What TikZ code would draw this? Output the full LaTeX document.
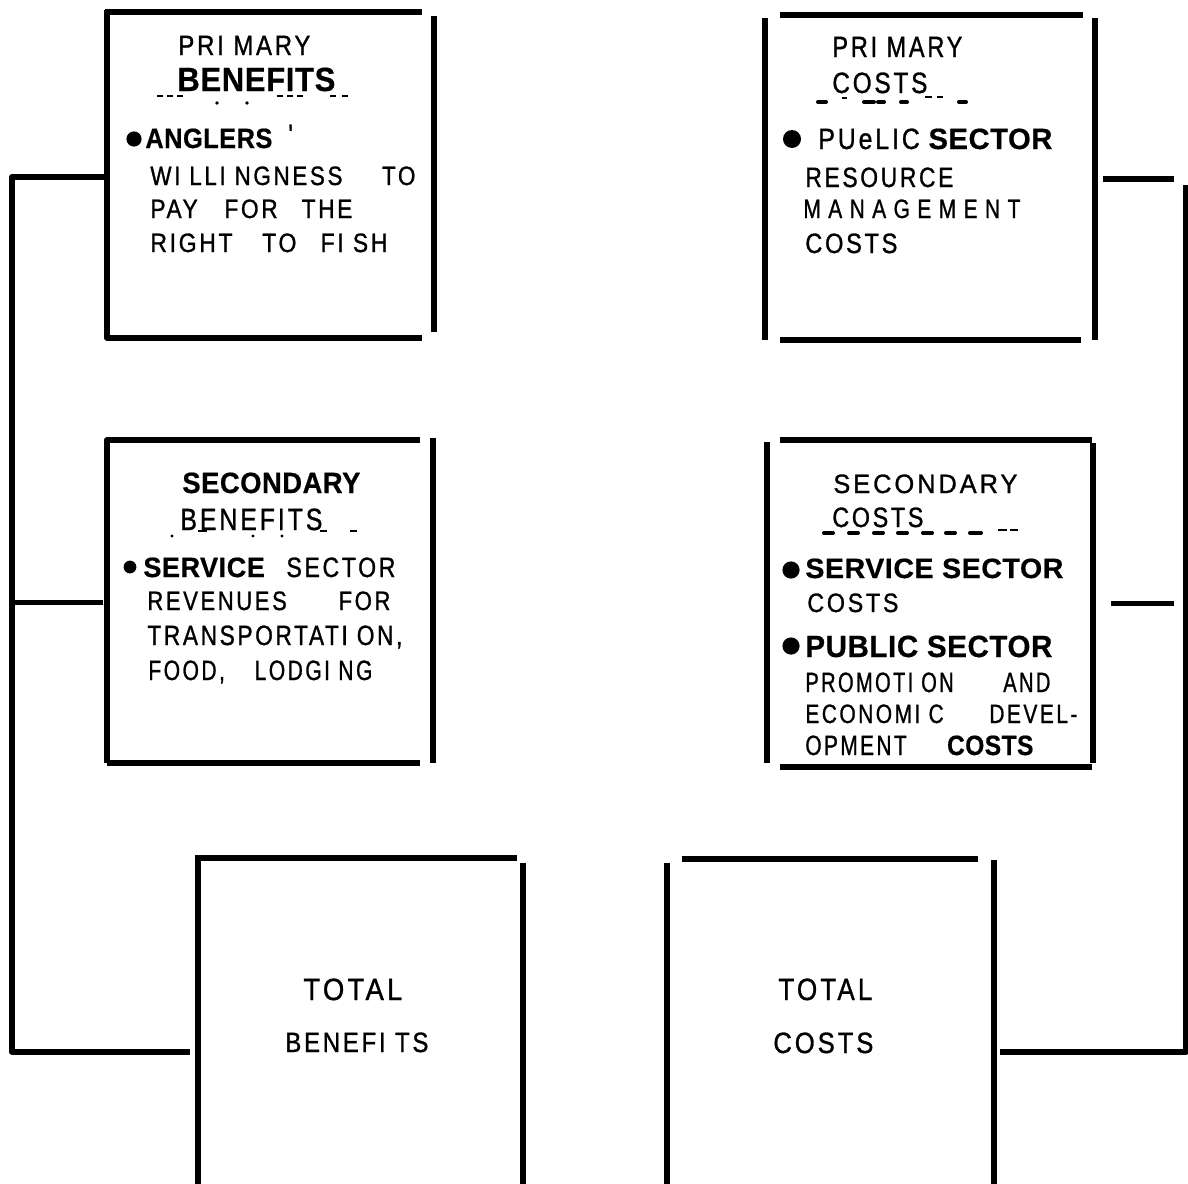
\documentclass[tikz,border=0pt]{standalone}
\usepackage{fontspec}
\usetikzlibrary{calc}
\newfontfamily\rgfam{Liberation Sans}[FakeStretch=0.85,LetterSpace=10,FakeBold=1]
\newfontfamily\bdfam{Liberation Sans Bold}[LetterSpace=2,FakeBold=0.6]
\newcommand\myrg{\rgfam\fontsize{14}{16}\selectfont}
\newcommand\mybd{\bdfam}
\newlength\fitw
% one printed line: #1 = width (pt), #2 = cap height (pt), #3 = text
\newcommand\fitln[3]{{\fontsize{\fpeval{#2/0.716}}{12}\selectfont
  \settowidth\fitw{#3}\scalebox{\fpeval{#1/(\fitw/1pt)}}[1]{#3}}}
\begin{document}
\begin{tikzpicture}[x=0.5pt,y=-0.5pt,line join=round,
  edge/.style={line width=2.75pt},
  wire/.style={line width=2.9pt},
  ulthin/.style={line width=1pt},
  ulthick/.style={line width=2pt,line cap=round},
  tx/.style={anchor=base west,inner sep=0pt,font=\myrg},
  bx/.style={anchor=base west,inner sep=0pt,font=\bdfam},
  frame/.style={draw=none,rectangle,inner sep=0pt}]
\useasboundingbox (0,0) rectangle (1188,1183);
\fill[white] (0,0) rectangle (1188,1183);

% ---- box areas (named) ----
\node[frame,minimum width=163.5pt,minimum height=163pt] (pb) at (270.5,175) {};
\node[frame,minimum width=165pt,minimum height=162.5pt] (pc) at (930,177.5) {};
\node[frame,minimum width=163pt,minimum height=162.5pt] (sb) at (270,602.5) {};
\node[frame,minimum width=163pt,minimum height=163.5pt] (sc) at (930,603.5) {};
\node[frame,minimum width=162.5pt,minimum height=162.5pt] (tb) at (360.5,1020.5) {};
\node[frame,minimum width=163.5pt,minimum height=162pt] (tc) at (830.5,1021) {};

% primary benefits
\draw[edge] (105,12) -- (422,12);
\draw[edge] (107,10) -- (107,338) -- (422,338);
\draw[edge] (434,16) -- (434,332);
% primary costs
\draw[edge] (765,18) -- (765,340);
\draw[edge] (780,15) -- (1083,15);
\draw[edge] (1095,18) -- (1095,340);
\draw[edge] (780,340) -- (1081,340);
% secondary benefits
\draw[edge] (107,763) -- (107,440) -- (420,440);
\draw[edge] (107,763) -- (420,763);
\draw[edge] (433,438) -- (433,763);
% secondary costs
\draw[edge] (767,442) -- (767,763);
\draw[edge] (780,440) -- (1092,440);
\draw[edge] (1093,443) -- (1093,763);
\draw[edge] (780,767) -- (1092,767);
% total benefits
\draw[edge] (195,858) -- (517,858);
\draw[edge] (198,858) -- (198,1186);
\draw[edge] (523,863) -- (523,1186);
% total costs
\draw[edge] (682,859) -- (978,859);
\draw[edge] (667,863) -- (667,1186);
\draw[edge] (994,860) -- (994,1186);

% ---- connectors ----
\coordinate (lt) at (12,177);
\coordinate (lb) at (12,1052);
\draw[wire] (pb.west |- lt) -- (lt) -- (lb) -- ($(tb.west |- lb)+(-8,0)$);
\draw[wire] (lt |- sb.west) -- ($(sb.west)+(-4,0)$);
\coordinate (rt) at (1174,179);
\coordinate (rv) at (1186,185);
\coordinate (rb) at (1186,1052);
\draw[wire] ($(pc.east |- rt)+(8,0)$) -- (rt);
\draw[wire] ($(sc.east)+(18,0)$) -- (rt |- sc.east);
\draw[wire] (rv) -- (rb) -- ($(tc.east |- rb)+(6,0)$);

% ---- texts: primary benefits ----
\node[tx] (pb1) at (178,55) {\fitln{66}{10}{PRI MARY}};
\node[bx] (pb2) at (177,91) {\fitln{79}{12}{BENEFITS}};
\foreach \x in {157,167,177,277,287,297,330,342} \draw[ulthin] (\x,96) -- ++(6,0);
\fill (217,103) circle (0.9pt);
\fill (247,103) circle (0.9pt);
\fill (134,139) circle (3.8pt);
\node[bx] (pb3) at (145,148) {\fitln{63.5}{10}{ANGLERS}};
\node[tx] (pb3a) at (288,144) {'};
\node[tx] (pb4) at (150,185) {\fitln{132.5}{9.5}{WI LLI NGNESS\hspace{1.5em}TO}};
\node[tx] (pb5) at (150,218) {\fitln{101}{9.5}{PAY\hspace{1em}FOR\hspace{0.9em}THE}};
\node[tx] (pb6) at (150,252) {\fitln{118.5}{9.5}{RIGHT\hspace{1.1em}TO\hspace{0.9em}FI SH}};

% ---- primary costs ----
\node[tx] (pc1) at (832,57) {\fitln{65}{10.5}{PRI MARY}};
\node[tx] (pc2) at (832,93) {\fitln{47.5}{10.5}{COSTS}};
\draw[ulthick] (818,102) -- (826,102);
\draw[ulthin] (842,98) -- (847,98);
\draw[ulthick] (864,102) -- (874,102);
\draw[ulthick] (878,102) -- (884,102);
\draw[ulthick] (901,102) -- (907,102);
\draw[ulthin] (925,97) -- (932,97);
\draw[ulthin] (937,97) -- (943,97);
\draw[ulthick] (959,102) -- (966,102);
\fill (792,139) circle (4.5pt);
\node[tx] (pc3) at (818,149) {\fitln{117}{10.5}{PUeLIC\hspace{0.3em}{\mybd SECTOR}}};
\node[tx] (pc4) at (805,187) {\fitln{74}{10}{RESOURCE}};
\node[tx] (pc5) at (803,218) {\fitln{108.5}{9.5}{\addfontfeature{LetterSpace=30}MANAGEMENT}};
\node[tx] (pc6) at (805,253) {\fitln{46}{10}{COSTS}};

% ---- secondary benefits ----
\node[bx] (sb1) at (182,493) {\fitln{89}{10.5}{SECONDARY}};
\node[tx] (sb2) at (180,530) {\fitln{71}{11}{BENEFITS}};
\draw[ulthin] (198,531) -- (207,531);
\draw[ulthin] (320,531) -- (327,531);
\draw[ulthin] (350,531) -- (357,531);
\foreach \x in {172,253,282} \fill (\x,536) circle (0.8pt);
\fill (130,567) circle (3.2pt);
\node[tx] (sb3) at (143,577) {\fitln{126}{10}{{\mybd SERVICE}\hspace{0.8em}SECTOR}};
\node[tx] (sb4) at (147,610) {\fitln{121.5}{9.5}{REVENUES\hspace{2em}FOR}};
\node[tx] (sb5) at (147,645) {\fitln{127.5}{10}{TRANSPORTATI ON,}};
\node[tx] (sb6) at (148,680) {\fitln{112}{10}{FOOD,\hspace{1.2em}LODGI NG}};

% ---- secondary costs ----
\node[tx] (sc1) at (833,493) {\fitln{92}{9.5}{SECONDARY}};
\node[tx] (sc2) at (832,527) {\fitln{45.5}{10}{COSTS}};
\foreach \x in {824,849,874,898,923,946} \draw[ulthick] (\x,533) -- ++(9,0);
\draw[ulthick] (970,533) -- (981,533);
\draw[ulthin] (998,530) -- (1007,530);
\draw[ulthin] (1010,530) -- (1018,530);
\fill (791,570) circle (4.3pt);
\node[bx] (sc3) at (805,578) {\fitln{129}{10}{SERVICE SECTOR}};
\node[tx] (sc4) at (807,612) {\fitln{45.5}{9.5}{COSTS}};
\fill (791,646) circle (4.3pt);
\node[bx] (sc5) at (805,657) {\fitln{123.5}{11}{PUBLIC SECTOR}};
\node[tx] (sc6) at (805,692) {\fitln{122.5}{10}{PROMOTI ON\hspace{2.1em}AND}};
\node[tx] (sc7) at (805,723) {\fitln{136}{9.5}{ECONOMI C\hspace{1.85em}DEVEL-}};
\node[tx] (sc8) at (805,755) {\fitln{114}{10}{OPMENT\hspace{1.65em}{\mybd COSTS}}};

% ---- totals ----
\node[tx] (tb1) at (303,1000) {\fitln{49.5}{11}{TOTAL}};
\node[tx] (tb2) at (285,1052) {\fitln{71.5}{10}{BENEFI TS}};
\node[tx] (tc1) at (778,1000) {\fitln{47}{11}{TOTAL}};
\node[tx] (tc2) at (773,1053) {\fitln{50}{10.5}{COSTS}};
\end{tikzpicture}
\end{document}
